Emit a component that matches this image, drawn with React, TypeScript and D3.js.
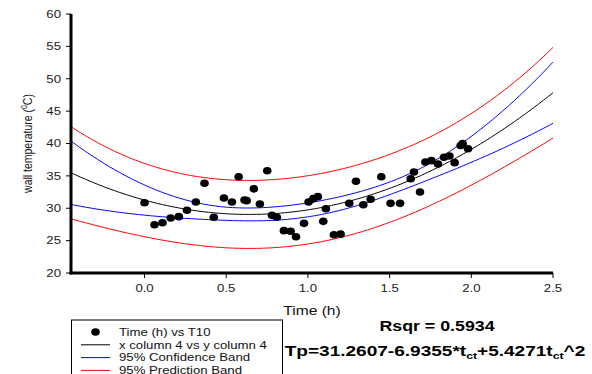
import React from "react";
import * as d3 from "d3";

const timeH = [0.0, 0.061, 0.11, 0.16, 0.21, 0.26, 0.314, 0.367, 0.424, 0.486, 0.535, 0.576, 0.612, 0.625, 0.669, 0.706, 0.751, 0.78, 0.81, 0.853, 0.894, 0.927, 0.976, 1.004, 1.033, 1.061, 1.094, 1.11, 1.159, 1.2, 1.253, 1.294, 1.339, 1.384, 1.449, 1.506, 1.564, 1.629, 1.649, 1.686, 1.719, 1.756, 1.796, 1.833, 1.866, 1.898, 1.935, 1.947, 1.98];
const t10 = [30.86, 27.46, 27.77, 28.5, 28.7, 29.7, 30.96, 33.85, 28.6, 31.58, 30.96, 34.87, 31.27, 31.17, 33.0, 30.65, 35.8, 28.9, 28.6, 26.54, 26.44, 25.6, 27.67, 30.96, 31.48, 31.79, 27.98, 29.93, 25.9, 26.0, 30.76, 34.16, 30.55, 31.38, 34.87, 30.76, 30.76, 34.56, 35.6, 32.5, 37.14, 37.35, 36.83, 37.87, 38.07, 37.04, 39.7, 40.0, 39.2];
const fitCoef = [31.2607, -6.9355, 5.4271];
const xTicks = [0.0, 0.5, 1.0, 1.5, 2.0, 2.5];
const yTicks = [20, 25, 30, 35, 40, 45, 50, 55, 60];
const legendLabels = ["Time (h) vs T10", "x column 4 vs y column 4", "95% Confidence Band", "95% Prediction Band"];

const W = 592, H = 374;
const M = { left: 71, right: 553, top: 14, bottom: 273 };
const FONT = "'Liberation Sans', Arial, Helvetica, sans-serif";

function inv3(m: number[][]) {
  const [a, b, c] = m[0], [d, e, f] = m[1], [g, h, i] = m[2];
  const A = e * i - f * h, B = -(d * i - f * g), C = d * h - e * g;
  const det = a * A + b * B + c * C;
  return [
    [A / det, -(b * i - c * h) / det, (b * f - c * e) / det],
    [B / det, (a * i - c * g) / det, -(a * f - c * d) / det],
    [C / det, -(a * h - b * g) / det, (a * e - b * d) / det],
  ];
}

function T(props: { x: number; y: number; sx?: number; size: number; anchor?: string; bold?: boolean; fill?: string; children: React.ReactNode }) {
  const { x, y, sx = 1.2, size, anchor = "start", bold, fill = "#111", children } = props;
  return (
    <text transform={`translate(${x},${y}) scale(${sx},1)`} dy="0.35em" textAnchor={anchor} fontSize={size} fontWeight={bold ? "bold" : "normal"} fontFamily={FONT} fill={fill}>
      {children}
    </text>
  );
}

export default function App() {
  const x = d3.scaleLinear().domain([-0.45, 2.5]).range([M.left, M.right]);
  const y = d3.scaleLinear().domain([20, 60]).range([M.bottom, M.top]);
  const fit = (t: number) => fitCoef[0] + fitCoef[1] * t + fitCoef[2] * t * t;

  const n = timeH.length;
  const xtx = [[0, 0, 0], [0, 0, 0], [0, 0, 0]];
  let sse = 0;
  timeH.forEach((t, k) => {
    const v = [1, t, t * t];
    for (let r = 0; r < 3; r++) for (let c = 0; c < 3; c++) xtx[r][c] += v[r] * v[c];
    sse += (t10[k] - fit(t)) ** 2;
  });
  const inv = inv3(xtx);
  const s = Math.sqrt(sse / (n - 3));
  const tcrit = 2.01;
  const lev = (t: number) => {
    const v = [1, t, t * t];
    let h = 0;
    for (let r = 0; r < 3; r++) for (let c = 0; c < 3; c++) h += v[r] * inv[r][c] * v[c];
    return h;
  };
  const ts = d3.range(0, 201).map((k) => -0.45 + (2.95 * k) / 200);
  const line = d3.line<[number, number]>().x((d) => x(d[0])).y((d) => y(d[1]));
  const mk = (fn: (t: number) => number) => line(ts.map((t) => [t, fn(t)]) as [number, number][]) || "";
  const conf = (t: number) => tcrit * s * Math.sqrt(lev(t));
  const pred = (t: number) => tcrit * s * Math.sqrt(1 + lev(t));

  return (
    <svg width={W} height={H} style={{ position: "absolute", left: 0, top: 0 }}>
      <rect width={W} height={H} fill="white" />
      <path d={mk((t) => fit(t) + pred(t))} fill="none" stroke="#ff0000" strokeWidth={1} />
      <path d={mk((t) => fit(t) - pred(t))} fill="none" stroke="#ff0000" strokeWidth={1} />
      <path d={mk((t) => fit(t) + conf(t))} fill="none" stroke="#0000ff" strokeWidth={1} />
      <path d={mk((t) => fit(t) - conf(t))} fill="none" stroke="#0000ff" strokeWidth={1} />
      <path d={mk(fit)} fill="none" stroke="#000" strokeWidth={1} />
      {timeH.map((t, k) => (
        <ellipse key={k} cx={x(t)} cy={y(t10[k])} rx={4.3} ry={3.8} fill="#000" />
      ))}
      {/* axes */}
      <line x1={M.left} x2={M.left} y1={M.top} y2={M.bottom + 1.5} stroke="#000" strokeWidth={3} />
      <line x1={M.left - 1.5} x2={M.right} y1={M.bottom} y2={M.bottom} stroke="#000" strokeWidth={3} />
      {yTicks.map((v) => (
        <g key={v}>
          <line x1={M.left - 5} x2={M.left} y1={y(v)} y2={y(v)} stroke="#000" strokeWidth={1} />
          <T x={M.left - 10} y={y(v)} size={11} anchor="end" fill="#222">{v}</T>
        </g>
      ))}
      {xTicks.map((v) => (
        <g key={v}>
          <line x1={x(v)} x2={x(v)} y1={M.bottom} y2={M.bottom + 5} stroke="#000" strokeWidth={1} />
          <T x={x(v)} y={288} size={11} anchor="middle" fill="#222">{d3.format(".1f")(v)}</T>
        </g>
      ))}
      <T x={(M.left + M.right) / 2} y={310} size={13} anchor="middle">Time (h)</T>
      <text transform={`translate(32,143.5) rotate(-90) scale(1,1.2)`} textAnchor="middle" fontSize={10.5} fontFamily={FONT} fill="#111">
        wall temperature (<tspan fontSize={7} dy={-4}>0</tspan><tspan dy={4}>C)</tspan>
      </text>
      {/* legend */}
      <rect x={71.5} y={320} width={211} height={60} fill="white" stroke="#000" strokeWidth={1} />
      {legendLabels.map((lab, k) => {
        const yy = 332 + k * 12.8;
        const colors = [null, "#000", "#0000ff", "#ff0000"];
        return (
          <g key={lab}>
            {k === 0 ? (
              <ellipse cx={95.5} cy={yy} rx={4.3} ry={3.8} fill="#000" />
            ) : (
              <line x1={81} x2={110} y1={yy} y2={yy} stroke={colors[k] as string} strokeWidth={1} />
            )}
            <T x={119} y={yy} size={11}>{lab}</T>
          </g>
        );
      })}
      <T x={437} y={326} size={14} sx={1.27} anchor="middle" bold fill="#000">Rsqr = 0.5934</T>
      <T x={435} y={351} size={14} sx={1.36} anchor="middle" bold fill="#000">
        Tp=31.2607-6.9355*t<tspan fontSize={9} dy={3}>ct</tspan><tspan dy={-3}>+5.4271t</tspan><tspan fontSize={9} dy={3}>ct</tspan><tspan dy={-3}>^2</tspan>
      </T>
    </svg>
  );
}
